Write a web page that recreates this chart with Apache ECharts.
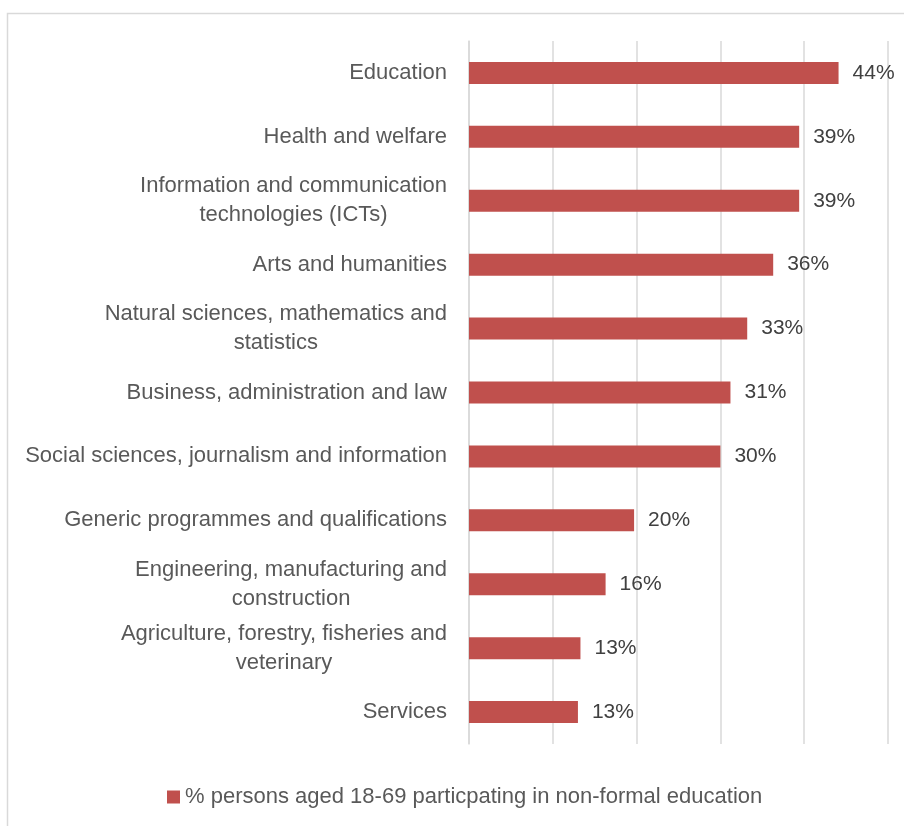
<!DOCTYPE html>
<html>
<head>
<meta charset="utf-8">
<script src="https://cdn.jsdelivr.net/npm/echarts@6/dist/echarts.min.js"></script>
<style>
html,body{margin:0;padding:0;background:#fff;}
#chart{width:904px;height:826px;}
</style>
</head>
<body>
<div id="chart"></div>
<script>
const categories = [
  "Education",
  "Health and welfare",
  "Information and communication\ntechnologies (ICTs)",
  "Arts and humanities",
  "Natural sciences, mathematics and\nstatistics",
  "Business, administration and law",
  "Social sciences, journalism and information",
  "Generic programmes and qualifications",
  "Engineering, manufacturing and\nconstruction",
  "Agriculture, forestry, fisheries and\nveterinary",
  "Services"
];
const values = [44.1, 39.4, 39.4, 36.3, 33.2, 31.2, 30.0, 19.7, 16.3, 13.3, 13.0];
const seriesName = "% persons aged 18-69 particpating in non-formal education";
const xTicks = [0, 10, 20, 30, 40, 50];

const chart = echarts.init(document.getElementById('chart'), null, {renderer: 'canvas'});
const FONT = '"Liberation Sans", Arial, sans-serif';
chart.setOption({
  animation: false,
  backgroundColor: '#ffffff',
  graphic: [{
    type: 'rect',
    shape: {x: 7.5, y: 13.5, width: 1000, height: 900},
    style: {fill: 'none', stroke: '#d9d9d9', lineWidth: 1.5},
    silent: true
  }],
  grid: {left: 469, right: 16, top: 41, bottom: 82, containLabel: false},
  legend: {
    show: true,
    bottom: 13,
    left: 162,
    itemWidth: 13,
    itemHeight: 13,
    itemGap: 10,
    icon: 'rect',
    textStyle: {color: '#595959', fontSize: 22, fontFamily: FONT},
    data: [seriesName]
  },
  xAxis: {
    type: 'value',
    min: xTicks[0],
    max: xTicks[xTicks.length - 1],
    interval: 10,
    axisLabel: {show: false},
    axisLine: {show: false},
    axisTick: {show: false},
    splitLine: {show: true, lineStyle: {color: '#d9d9d9', width: 1.5}}
  },
  yAxis: {
    type: 'category',
    inverse: true,
    data: categories,
    axisLine: {show: true, lineStyle: {color: '#d9d9d9', width: 1.5}},
    axisTick: {show: false},
    axisLabel: {
      margin: 22,
      color: '#595959',
      fontSize: 22,
      fontFamily: FONT,
      lineHeight: 29,
      align: 'right',
      formatter: function (v) {
        return v.split('\n').map(function (l) { return '{c|' + l + '}'; }).join('\n');
      },
      rich: {c: {align: 'center', color: '#595959', fontSize: 22, fontFamily: FONT, lineHeight: 29}}
    }
  },
  series: [{
    name: seriesName,
    type: 'bar',
    data: values,
    barWidth: 22,
    itemStyle: {color: '#c0504d'},
    label: {
      show: true,
      position: 'right',
      distance: 14,
      color: '#404040',
      fontSize: 21,
      fontFamily: FONT,
      formatter: function (p) { return Math.round(p.value) + '%'; }
    }
  }]
});
</script>
</body>
</html>
